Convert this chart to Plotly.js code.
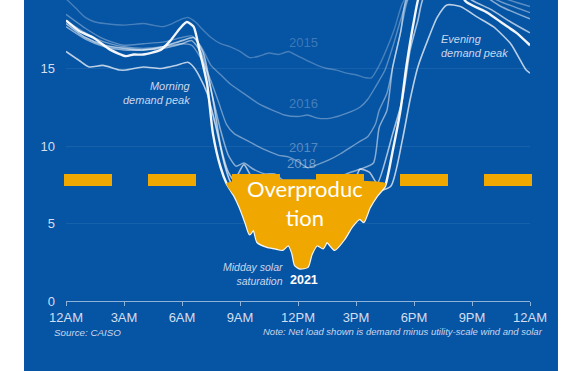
<!DOCTYPE html>
<html>
<head>
<meta charset="utf-8">
<script src="https://cdn.plot.ly/plotly-3.0.1.min.js"></script>
<style>
  html, body { margin: 0; padding: 0; background: #ffffff; }
  #chart { width: 564px; height: 371px; }
</style>
</head>
<body>
<div id="chart"></div>
<script>
// Net load (GW) on a spring day, by hour of day, CAISO
const HOUR_TICKS = [0, 3, 6, 9, 12, 15, 18, 21, 24];
const HOUR_LABELS = ['12AM', '3AM', '6AM', '9AM', '12PM', '3PM', '6PM', '9PM', '12AM'];
const LOAD_TICKS = [0, 5, 10, 15];

const H_2015 = [0, 0.5, 1, 1.5, 2, 3, 4, 4.5, 5, 5.5, 6, 6.3, 6.7, 7, 7.5, 8, 8.5, 9, 9.5, 10, 10.5, 11, 11.5, 12, 12.5, 13, 13.5, 14, 14.5, 15, 15.5, 15.8, 16.2, 16.6, 17, 17.4, 18, 19, 20, 21, 22, 23, 24];
const NET_2015 = [19.5, 18.9, 18.3, 18.0, 17.9, 17.8, 17.9, 17.8, 17.7, 17.9, 18.2, 18.3, 18.0, 17.6, 17.0, 16.6, 16.4, 16.1, 15.7, 15.8, 16.0, 15.9, 16.1, 15.8, 15.5, 15.2, 15.0, 14.9, 14.7, 14.6, 14.4, 14.4, 15.2, 16.3, 17.6, 19.2, 20.3, 20.8, 20.9, 20.6, 20.2, 19.8, 19.5];

const H_2016 = [0, 1, 1.8, 2.4, 3, 4, 5, 6, 6.5, 7, 7.5, 8, 8.5, 9.3, 10, 10.7, 11.3, 12, 12.5, 13, 13.7, 14.5, 15.2, 15.6, 16, 16.5, 16.9, 17.3, 17.7, 18.5, 19.5, 20.5, 21.5, 22.5, 24];
const NET_2016 = [18.5, 17.6, 17.0, 16.7, 16.5, 16.6, 16.7, 17.0, 17.1, 16.4, 15.2, 14.6, 14.0, 13.3, 12.7, 12.3, 12.0, 11.9, 12.0, 11.8, 11.8, 12.1, 12.5, 13.0, 13.8, 14.9, 16.4, 18.1, 19.6, 20.6, 21.0, 20.8, 20.2, 19.6, 19.0];

const H_2017 = [0, 1, 2, 3, 4, 5, 6, 6.5, 7, 7.5, 7.9, 8.3, 8.7, 9.3, 9.9, 10.4, 11, 11.5, 12, 12.5, 13, 13.6, 14.2, 14.7, 15.2, 15.6, 16, 16.2, 16.6, 16.9, 17.3, 17.7, 18.5, 19.5, 20.5, 21.5, 22.5, 24];
const NET_2017 = [18.1, 17.3, 16.7, 16.4, 16.3, 16.4, 16.6, 16.5, 15.6, 14.2, 12.8, 11.4, 10.8, 10.4, 10.0, 9.7, 9.4, 9.3, 9.0, 8.6, 8.8, 9.1, 9.5, 9.9, 10.3, 10.6, 11.4, 12.3, 13.4, 15.1, 17.3, 19.5, 20.6, 21.0, 20.6, 19.9, 19.3, 18.6];

const H_2018 = [0, 1, 2, 3, 4, 5, 6, 6.5, 7, 7.5, 8, 8.4, 8.8, 9.2, 9.7, 10.3, 10.8, 11.3, 12, 12.6, 13.2, 13.8, 14.5, 15.2, 15.9, 16.2, 16.6, 16.9, 17.3, 17.6, 18.3, 19.3, 20.5, 21.5, 22.5, 24];
const NET_2018 = [17.7, 16.9, 16.4, 16.2, 16.2, 16.3, 16.6, 16.8, 16.0, 13.6, 11.0, 9.4, 8.7, 8.9, 8.5, 8.2, 8.2, 7.7, 7.4, 7.5, 7.4, 7.8, 8.2, 8.5, 8.9, 11.2, 12.3, 15.1, 17.3, 19.5, 20.5, 20.8, 20.5, 19.8, 19.0, 18.2];

const H_2019 = [0, 1, 2, 3, 4, 5, 6, 6.6, 7.1, 7.6, 8, 8.4, 8.7, 9.2, 9.6, 10.2, 11, 12, 13, 14, 14.8, 15.2, 15.7, 16.1, 16.9, 17.4, 17.8, 18.2, 18.5, 19.3, 20.2, 21, 22, 23, 24];
const NET_2019 = [17.9, 17.0, 16.5, 16.3, 16.2, 16.4, 16.8, 17.0, 16.0, 13.0, 10.0, 8.3, 7.8, 8.8, 8.0, 7.2, 6.8, 6.5, 6.6, 6.9, 7.3, 8.5, 8.3, 7.6, 10.8, 13.0, 16.2, 18.1, 19.6, 20.3, 20.2, 19.4, 18.8, 18.0, 17.3];

const H_2020 = [0, 0.7, 1.2, 1.9, 2.8, 3.1, 4, 4.9, 5.7, 6.3, 6.6, 6.9, 7.3, 7.8, 8.2, 8.5, 9, 10, 11, 12, 13, 14, 15, 16, 16.8, 17.4, 17.8, 18.2, 18.7, 19.2, 19.7, 20.4, 21.3, 22.1, 23, 23.8, 24];
const NET_2020 = [16.1, 15.5, 15.1, 15.2, 14.9, 14.9, 15.1, 15.0, 15.2, 15.4, 15.1, 14.5, 13.4, 11.0, 8.8, 7.7, 7.0, 6.0, 5.5, 5.2, 5.4, 5.8, 6.3, 7.0, 7.4, 10.4, 13.0, 15.1, 16.8, 18.3, 19.1, 19.0, 18.3, 17.7, 16.6, 14.9, 14.7];

const H_2021 = [0, 0.7, 1.4, 2.3, 3.1, 3.5, 4, 4.9, 5.4, 5.9, 6.25, 6.6, 6.9, 7.3, 7.6, 8, 8.3, 8.7, 9, 9.3, 9.5, 9.7, 9.9, 10.4, 10.8, 11.2, 11.5, 11.7, 11.85, 12.1, 12.5, 12.7, 13, 13.3, 13.5, 13.9, 14.4, 14.8, 15.2, 15.4, 15.7, 16.1, 16.5, 16.9, 17.3, 17.6, 18, 18.3, 19, 20, 20.7, 21.8, 22.6, 23.3, 24];
const NET_2021 = [18.1, 17.4, 17.0, 16.2, 15.8, 15.9, 15.9, 16.2, 16.8, 17.6, 18.0, 17.7, 16.2, 14.0, 10.8, 8.6, 7.6, 6.8, 6.0, 5.0, 4.3, 4.6, 3.8, 3.5, 3.4, 3.3, 3.6, 3.1, 2.3, 2.1, 2.2, 3.0, 3.6, 3.4, 3.8, 3.3, 4.0, 4.8, 5.3, 5.1, 6.0, 6.8, 7.4, 9.7, 12.3, 15.1, 18.1, 19.8, 20.8, 20.5, 19.3, 18.6, 17.9, 17.3, 16.5];

const YEARS = ['2015', '2016', '2017', '2018', '2019', '2020', '2021'];
const HOURS_BY_YEAR = [H_2015, H_2016, H_2017, H_2018, H_2019, H_2020, H_2021];
const LOAD_BY_YEAR = [NET_2015, NET_2016, NET_2017, NET_2018, NET_2019, NET_2020, NET_2021];

// Level below which midday net load counts as overproduction, and the dashed marker level
const OVERPRODUCTION_LEVEL = 7.6;
const MARKER_LEVEL = 7.8;

const BLUE = '#0654a4';
const ORANGE = '#f0a800';
const SANS = 'Liberation Sans, Arial, sans-serif';
const SOFT = '#c9d7ee';

// Older years fade into the background; the latest year is the brightest
const LINE_ALPHA = [0.26, 0.33, 0.42, 0.52, 0.64, 0.72, 0.95];
const LINE_WIDTH = [1.4, 1.4, 1.4, 1.5, 1.6, 1.6, 2.4];

const traces = YEARS.map((yr, i) => ({
  type: 'scatter',
  mode: 'lines',
  name: yr,
  x: HOURS_BY_YEAR[i],
  y: LOAD_BY_YEAR[i],
  line: { color: `rgba(255,255,255,${LINE_ALPHA[i]})`, width: LINE_WIDTH[i], shape: 'spline', smoothing: 0.6 },
  hoverinfo: 'skip',
  showlegend: false
}));

// Region where the latest curve sits below the overproduction level
function belowLevel(xs, ys, level) {
  const px = [], py = [];
  for (let i = 0; i < xs.length; i++) {
    if (i > 0) {
      const a = ys[i - 1] - level, b = ys[i] - level;
      if ((a < 0) !== (b < 0) && a !== b) {
        const t = a / (a - b);
        px.push(xs[i - 1] + t * (xs[i] - xs[i - 1]));
        py.push(level);
      }
    }
    if (ys[i] < level) { px.push(xs[i]); py.push(ys[i]); }
  }
  return { x: px, y: py };
}
const gap = belowLevel(H_2021, NET_2021, OVERPRODUCTION_LEVEL);

traces.push({
  type: 'scatter',
  mode: 'lines',
  x: gap.x.concat([gap.x[0]]),
  y: gap.y.concat([gap.y[0]]),
  fill: 'toself',
  fillcolor: ORANGE,
  line: { color: ORANGE, width: 0, shape: 'spline', smoothing: 0.6 },
  hoverinfo: 'skip',
  showlegend: false
});

const yearLabel = (txt, x, y, color, size) => ({
  x: x, y: y, xref: 'x', yref: 'y', text: txt, showarrow: false, borderpad: 0,
  font: { family: SANS, size: size || 13, color: color }
});

const layout = {
  width: 564,
  height: 371,
  margin: { l: 66, r: 34, t: 0, b: 70 },
  paper_bgcolor: '#ffffff',
  plot_bgcolor: BLUE,
  showlegend: false,
  xaxis: {
    range: [0, 24],
    tickvals: HOUR_TICKS,
    ticktext: HOUR_LABELS,
    showgrid: false,
    zeroline: false,
    showline: true,
    linecolor: 'rgba(190,210,238,0.75)',
    linewidth: 1,
    ticks: 'outside',
    ticklen: 4,
    tickcolor: 'rgba(190,210,238,0.75)',
    tickfont: { family: SANS, size: 13, color: '#d3dff0' },
    fixedrange: true
  },
  yaxis: {
    range: [0, 19.42],
    tickvals: LOAD_TICKS,
    showgrid: true,
    gridcolor: 'rgba(255,255,255,0.07)',
    zeroline: false,
    showline: false,
    ticks: '',
    ticklabelstandoff: 10,
    tickfont: { family: SANS, size: 13, color: '#d3dff0' },
    fixedrange: true
  },
  shapes: [
    // Blue panel behind the whole chart
    { type: 'rect', xref: 'paper', yref: 'paper', x0: -0.0905, x1: 1.0603, y0: -0.2326, y1: 1,
      fillcolor: BLUE, line: { width: 0 }, layer: 'below' },
    // Dashed overproduction marker
    { type: 'line', xref: 'paper', yref: 'y', x0: -0.0043, x1: 1.0043, y0: MARKER_LEVEL, y1: MARKER_LEVEL,
      line: { color: ORANGE, width: 12, dash: '48px,36px' }, layer: 'above' }
  ],
  annotations: [
    yearLabel('2015', 12.26, 16.7, 'rgba(255,255,255,0.22)'),
    yearLabel('2016', 12.26, 12.77, 'rgba(255,255,255,0.26)'),
    yearLabel('2017', 12.26, 9.9, 'rgba(255,255,255,0.32)'),
    yearLabel('2018', 12.2, 8.85, 'rgba(255,255,255,0.42)'),
    yearLabel('<b>2021</b>', 12.31, 1.35, '#ffffff', 12.5),
    { x: 6.5, y: 13.4, xref: 'x', yref: 'y', xanchor: 'right', align: 'right', showarrow: false, borderpad: 0,
      text: '<i>Morning<br>demand peak</i>', font: { family: SANS, size: 11, color: SOFT } },
    { x: 19.35, y: 16.45, xref: 'x', yref: 'y', xanchor: 'left', align: 'left', showarrow: false, borderpad: 0,
      text: '<i>Evening<br>demand peak</i>', font: { family: SANS, size: 11, color: SOFT } },
    { x: 11.25, y: 1.75, xref: 'x', yref: 'y', xanchor: 'right', align: 'right', showarrow: false, borderpad: 0,
      text: '<i>Midday solar<br>saturation</i>', font: { family: SANS, size: 10.5, color: SOFT } },
    { x: 12.36, y: 6.35, xref: 'x', yref: 'y', showarrow: false, borderpad: 0,
      text: 'Overproduc<br>tion', font: { family: 'Lato, Open Sans, sans-serif', size: 22, color: '#ffffff' } },
    { x: -0.0302, y: -0.103, xref: 'paper', yref: 'paper', xanchor: 'left', yanchor: 'middle', showarrow: false,
      text: '<i>Source: CAISO</i>', font: { family: SANS, size: 9.8, color: SOFT } },
    { x: 1.0323, y: -0.1, xref: 'paper', yref: 'paper', xanchor: 'right', yanchor: 'middle', showarrow: false,
      text: '<i>Note: Net load shown is demand minus utility-scale wind and solar</i>',
      font: { family: SANS, size: 9.5, color: SOFT } }
  ]
};

Plotly.newPlot('chart', traces, layout, { staticPlot: true, displayModeBar: false });
</script>
</body>
</html>
